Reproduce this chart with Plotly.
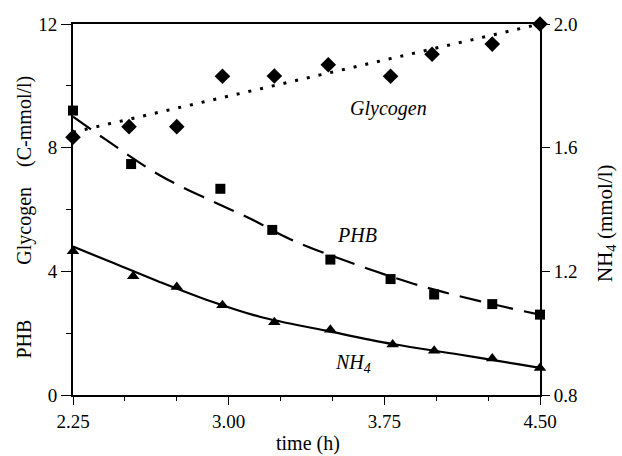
import plotly.graph_objects as go

# ---- data ----
# Glycogen (C-mmol/l), diamonds
t_gly = [2.25, 2.52, 2.75, 2.97, 3.22, 3.48, 3.78, 3.98, 4.27, 4.50]
glycogen = [8.34, 8.68, 8.68, 10.31, 10.32, 10.68, 10.31, 11.02, 11.35, 12.0]

# PHB (C-mmol/l), squares
t_phb = [2.25, 2.53, 2.96, 3.21, 3.49, 3.78, 3.99, 4.27, 4.50]
phb = [9.2, 7.47, 6.67, 5.34, 4.38, 3.75, 3.25, 2.94, 2.6]

# NH4 (mmol/l), triangles (right axis)
t_nh4 = [2.25, 2.54, 2.75, 2.97, 3.22, 3.49, 3.79, 3.99, 4.27, 4.50]
nh4 = [1.265, 1.184, 1.149, 1.090, 1.035, 1.011, 0.963, 0.943, 0.918, 0.887]

# fitted curves
t_gly_fit = [2.25, 4.50]
gly_fit = [8.5, 12.0]

t_phb_fit = [2.25, 2.41, 2.67, 2.91, 3.09, 3.31, 3.58, 3.89, 4.11, 4.36, 4.50]
phb_fit = [9.0, 8.25, 7.1, 6.3, 5.75, 5.0, 4.3, 3.6, 3.2, 2.8, 2.6]

t_nh4_fit = [2.25, 2.43, 2.67, 2.91, 3.15, 3.47, 3.79, 4.11, 4.40, 4.50]
nh4_fit = [1.28, 1.231, 1.165, 1.104, 1.053, 1.008, 0.965, 0.931, 0.899, 0.888]

x_ticks = [2.25, 3.00, 3.75, 4.50]
x_ticklabels = ["2.25", "3.00", "3.75", "4.50"]
y_ticks = [0, 4, 8, 12]
y2_ticks = [0.8, 1.2, 1.6, 2.0]
y2_ticklabels = ["0.8", "1.2", "1.6", "2.0"]

FONT = "Liberation Serif"
BLACK = "black"

fig = go.Figure()

# curves
fig.add_trace(go.Scatter(x=t_gly_fit, y=gly_fit, mode="lines",
                         line=dict(color=BLACK, width=3, dash="3px,9px"),
                         showlegend=False, hoverinfo="skip"))
fig.add_trace(go.Scatter(x=t_phb_fit, y=phb_fit, mode="lines",
                         line=dict(color=BLACK, width=2.2, dash="22px,11px", shape="spline"),
                         showlegend=False, hoverinfo="skip"))
fig.add_trace(go.Scatter(x=t_nh4_fit, y=nh4_fit, mode="lines", yaxis="y2",
                         line=dict(color=BLACK, width=2.2, shape="spline"),
                         showlegend=False, hoverinfo="skip"))

# markers
fig.add_trace(go.Scatter(x=t_gly, y=glycogen, mode="markers", cliponaxis=False,
                         marker=dict(symbol="diamond", size=12, color=BLACK),
                         showlegend=False))
fig.add_trace(go.Scatter(x=t_phb, y=phb, mode="markers", cliponaxis=False,
                         marker=dict(symbol="square", size=10, color=BLACK),
                         showlegend=False))
fig.add_trace(go.Scatter(x=t_nh4, y=nh4, mode="markers", yaxis="y2", cliponaxis=False,
                         marker=dict(symbol="triangle-up", size=11, color=BLACK),
                         showlegend=False))

tickfont = dict(family=FONT, size=19, color=BLACK)

fig.update_layout(
    width=622, height=456,
    margin=dict(l=73, r=82, t=24, b=61),
    paper_bgcolor="white", plot_bgcolor="white",
    font=dict(family=FONT, color=BLACK),
    xaxis=dict(range=[2.25, 4.5], tickvals=x_ticks, ticktext=x_ticklabels,
               showgrid=False, zeroline=False, showline=True, linecolor=BLACK,
               linewidth=2, mirror=True, ticks="outside", ticklen=8, tickwidth=1,
               tickcolor=BLACK, tickfont=tickfont,
               minor=dict(tick0=2.25, dtick=0.25, ticks="outside", ticklen=4,
                          tickcolor=BLACK, tickwidth=1, showgrid=False)),
    yaxis=dict(range=[0, 12], tickvals=y_ticks, showgrid=False, zeroline=False,
               showline=True, linecolor=BLACK, linewidth=2, ticks="outside",
               ticklen=10, tickwidth=1, tickcolor=BLACK, tickfont=tickfont,
               minor=dict(tick0=0, dtick=2, ticks="outside", ticklen=5,
                          tickcolor=BLACK, tickwidth=1, showgrid=False)),
    yaxis2=dict(range=[0.8, 2.0], tickvals=y2_ticks, ticktext=y2_ticklabels,
                overlaying="y", side="right", showgrid=False, zeroline=False,
                showline=True, linecolor=BLACK, linewidth=2, ticks="outside",
                ticklen=8, tickwidth=1, tickcolor=BLACK, tickfont=tickfont),
)

annots = [
    dict(text="<i>Glycogen</i>", x=3.77, y=9.28, xref="x", yref="y",
         font=dict(family=FONT, size=20, color=BLACK)),
    dict(text="<i>PHB</i>", x=3.617, y=5.17, xref="x", yref="y",
         font=dict(family=FONT, size=20, color=BLACK)),
    dict(text="<i>NH<sub>4</sub></i>", x=3.60, y=1.03, xref="x", yref="y",
         font=dict(family=FONT, size=20, color=BLACK)),
    dict(text="PHB" + "\u00a0" * 11 + "Glycogen" + "\u00a0" * 4 + "(C-mmol/l)",
         x=-0.1028, y=0.481, xref="paper", yref="paper", textangle=-90,
         font=dict(family=FONT, size=20, color=BLACK)),
    dict(text="NH<sub>4</sub> (mmol/l)", x=(606 - 73) / 467, y=0.4636, xref="paper",
         yref="paper", textangle=-90, font=dict(family=FONT, size=21, color=BLACK)),
    dict(text="time (h)", x=(308 - 73) / 467, y=-0.132, xref="paper", yref="paper",
         font=dict(family=FONT, size=20, color=BLACK)),
]
for a in annots:
    a.update(showarrow=False, xanchor="center", yanchor="middle")
    fig.add_annotation(**a)

fig.write_html("out.html")
